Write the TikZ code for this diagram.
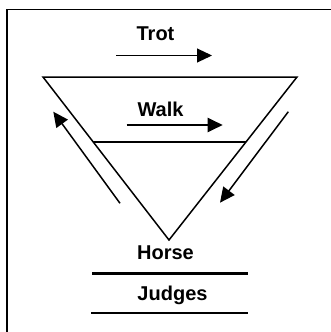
\documentclass[tikz,border=0pt]{standalone}
\usepackage{fontspec}
\setmainfont{Liberation Sans}
\usetikzlibrary{arrows.meta}
\begin{document}
\begin{tikzpicture}[x=1pt,y=-1pt,
  lbl/.style={anchor=base,inner sep=0pt,font=\bfseries\fontsize{20}{24}\selectfont},
  thinline/.style={line width=1.1pt},
  arr/.style={-{Triangle[length=15pt,width=14pt]}}]
\useasboundingbox (0,0) rectangle (331,332);
% frame
\coordinate (ftr) at (331,9.5);
\coordinate (ftl) at (7,9.5);
\coordinate (fbl) at (7,332);
\draw[line width=1.6pt] (ftr) -- (ftl) -- (fbl);
% triangle
\coordinate (tl) at (43,77);
\coordinate (tr) at (297,77);
\coordinate (ap) at (169,240);
\draw[line width=1.5pt,line join=miter] (tl) -- (tr) -- (ap) -- cycle;
% inner line
\coordinate (il) at (92.5,142);
\coordinate (ir) at (245.5,142);
\draw[line width=1.6pt] (il) -- (ir);
% texts
\node[lbl] (trot) at (155.5,40) {Trot};
\node[lbl] (walk) at (160.5,116.7) {Walk};
\node[lbl] (horse) at (165.5,259) {Horse};
\node[lbl] (judges) at (172.5,300.7) {Judges};
% trot arrow
\coordinate (ta) at (116,55.5);
\coordinate (tb) at (212,55.5);
\draw[thinline,arr] (ta) -- (tb);
% walk arrow
\coordinate (wa) at (126.7,125);
\coordinate (wb) at (222.7,125);
\draw[line width=2.2pt,arr] (wa) -- (wb);
% side arrows
\coordinate (la) at (120,203.3);
\coordinate (lb) at (53.3,111.7);
\draw[line width=1.5pt,arr] (la) -- (lb);
\coordinate (ra) at (288.3,111.7);
\coordinate (rb) at (220,202.7);
\draw[line width=1.5pt,arr] (ra) -- (rb);
% horse / judges lines
\coordinate (hl) at (92,273.3);
\coordinate (hr) at (248,273.3);
\draw[line width=2.8pt] (hl) -- (hr);
\coordinate (jl) at (91,312.7);
\coordinate (jr) at (248,312.7);
\draw[line width=1.7pt] (jl) -- (jr);
\end{tikzpicture}
\end{document}
